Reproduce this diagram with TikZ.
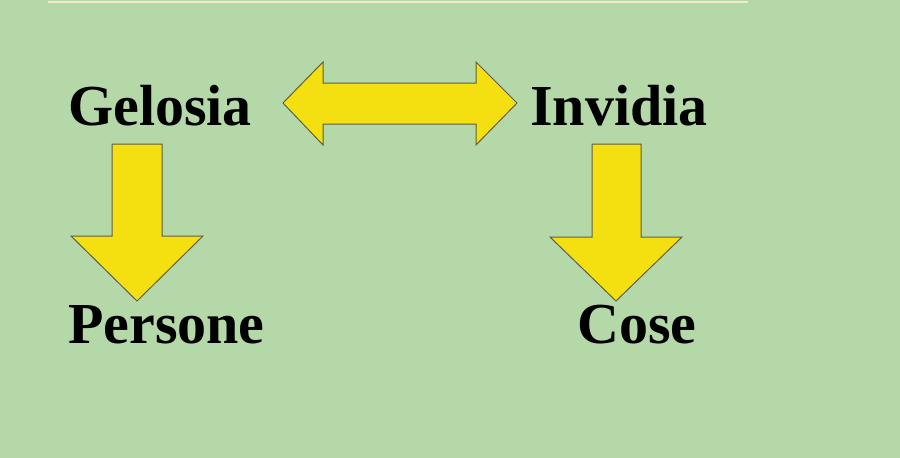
\documentclass[tikz,border=0pt]{standalone}
\usepackage{fontspec}
\setmainfont{Liberation Serif}
\begin{document}
\begin{tikzpicture}[x=1pt,y=-1pt,
  word/.style={anchor=base west,inner sep=0pt,font=\fontsize{58}{60}\selectfont\bfseries},
  blockarrow/.style={fill=arrowyellow,draw=arrowedge,line width=1pt,line join=miter}]
\definecolor{bg}{HTML}{B5D8A9}
\definecolor{arrowyellow}{HTML}{F4E010}
\definecolor{arrowedge}{HTML}{5E5E45}
\definecolor{topline}{HTML}{F2EBC4}
\fill[bg] (0,0) rectangle (900,458);
\useasboundingbox (0,0) rectangle (900,458);
\draw[topline,line width=2pt] (48,1.5) -- (748,1.5);
% texts
\node[word] (gel) at (68,125) {Gelosia};
\node[word] (inv) at (530,125) {Invidia};
\node[word] (per) at (68,343) {Persone};
\node[word] (cos) at (577,343) {Cose};
% double arrow
\draw[blockarrow] (283,103) -- (323,62) -- (323,83) -- (476,83) -- (476,62) -- (517,103)
  -- (476,145) -- (476,124) -- (323,124) -- (323,145) -- cycle;
% left down arrow
\draw[blockarrow] (112,144) -- (162,144) -- (162,236) -- (203,236) -- (137,301)
  -- (71,236) -- (112,236) -- cycle;
% right down arrow
\draw[blockarrow] (592,144) -- (641,144) -- (641,237) -- (682,237) -- (616,301)
  -- (550,237) -- (592,237) -- cycle;
\end{tikzpicture}
\end{document}
